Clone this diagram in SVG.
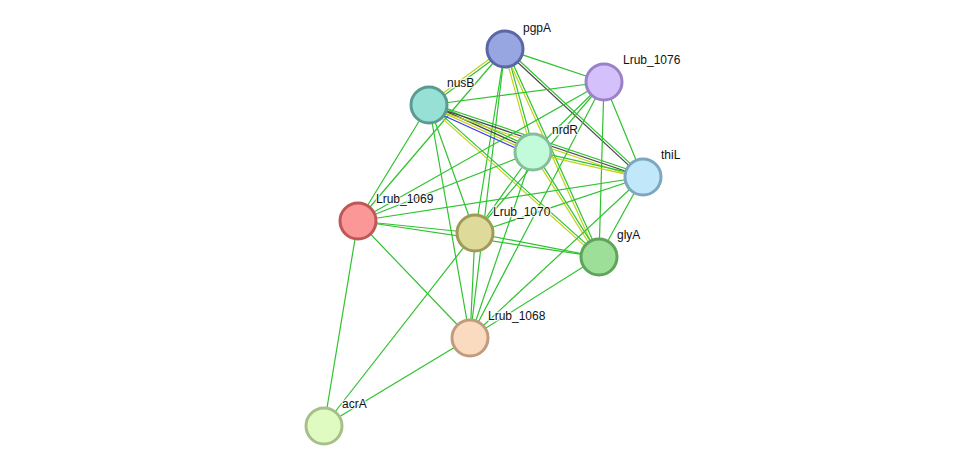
<svg xmlns="http://www.w3.org/2000/svg" width="976" height="471" viewBox="0 0 976 471">
<style>
.g{stroke:#2fc22f}
.y{stroke:#c3d21a}
.k{stroke:#474747}
.b{stroke:#3636f0}
#edges line{stroke-width:1.2;fill:none}
.n circle{stroke-width:3}
.lbl{font-family:"Liberation Sans",Arial,sans-serif;font-size:12px;fill:#111;stroke:#fff;stroke-width:2.5;stroke-opacity:0.8;paint-order:stroke;stroke-linejoin:round}
</style>
<rect width="976" height="471" fill="#fff"/>
<g id="edges">
<!-- pgpA -->
<line class="g" x1="505" y1="49" x2="604" y2="82"/>
<line class="g" x1="505.7" y1="50" x2="429.7" y2="106"/>
<line class="y" x1="504.3" y1="48" x2="428.3" y2="104"/>
<line class="g" x1="506.2" y1="48.7" x2="534.2" y2="151.7"/>
<line class="y" x1="503.8" y1="49.3" x2="531.8" y2="152.3"/>
<line class="g" x1="505.8" y1="48.1" x2="643.8" y2="176.1"/>
<line class="k" x1="504.2" y1="49.9" x2="642.2" y2="177.9"/>
<line class="g" x1="506.1" y1="48.5" x2="600.1" y2="256.5"/>
<line class="y" x1="503.9" y1="49.5" x2="597.9" y2="257.5"/>
<line class="g" x1="505" y1="49" x2="475" y2="233"/>
<line class="g" x1="505" y1="49" x2="470" y2="338"/>
<line class="g" x1="505" y1="49" x2="358" y2="221"/>
<!-- nusB -->
<line class="g" x1="429" y1="105" x2="604" y2="82"/>
<line class="g" x1="430.5" y1="101.7" x2="534.5" y2="148.7"/>
<line class="k" x1="429.5" y1="103.9" x2="533.5" y2="150.9"/>
<line class="y" x1="428.5" y1="106.1" x2="532.5" y2="153.1"/>
<line class="b" x1="427.5" y1="108.3" x2="531.5" y2="155.3"/>
<line class="g" x1="429.8" y1="102.7" x2="643.8" y2="174.7"/>
<line class="k" x1="429" y1="105" x2="643" y2="177"/>
<line class="y" x1="428.2" y1="107.3" x2="642.2" y2="179.3"/>
<line class="g" x1="429.8" y1="104.1" x2="599.8" y2="256.1"/>
<line class="y" x1="428.2" y1="105.9" x2="598.2" y2="257.9"/>
<line class="g" x1="429" y1="105" x2="358" y2="221"/>
<line class="g" x1="429" y1="105" x2="475" y2="233"/>
<line class="g" x1="429" y1="105" x2="470" y2="338"/>
<!-- Lrub_1076 -->
<line class="g" x1="604" y1="82" x2="533" y2="152"/>
<line class="g" x1="604" y1="82" x2="643" y2="177"/>
<line class="g" x1="604" y1="82" x2="599" y2="257"/>
<line class="g" x1="604" y1="82" x2="475" y2="233"/>
<line class="g" x1="604" y1="82" x2="470" y2="338"/>
<line class="g" x1="604" y1="82" x2="358" y2="221"/>
<!-- nrdR -->
<line class="g" x1="533.3" y1="150.8" x2="643.3" y2="175.8"/>
<line class="y" x1="532.7" y1="153.2" x2="642.7" y2="178.2"/>
<line class="g" x1="534" y1="151.4" x2="600" y2="256.4"/>
<line class="y" x1="532" y1="152.6" x2="598" y2="257.6"/>
<line class="g" x1="533" y1="152" x2="475" y2="233"/>
<line class="g" x1="533" y1="152" x2="470" y2="338"/>
<line class="g" x1="533" y1="152" x2="358" y2="221"/>
<!-- thiL -->
<line class="g" x1="643" y1="177" x2="599" y2="257"/>
<line class="g" x1="643" y1="177" x2="475" y2="233"/>
<line class="g" x1="643" y1="177" x2="470" y2="338"/>
<line class="g" x1="643" y1="177" x2="358" y2="221"/>
<!-- Lrub_1069 -->
<line class="g" x1="358" y1="221" x2="475" y2="233"/>
<line class="g" x1="358" y1="221" x2="599" y2="257"/>
<line class="g" x1="358" y1="221" x2="470" y2="338"/>
<line class="g" x1="358" y1="221" x2="324" y2="426"/>
<!-- Lrub_1070 -->
<line class="g" x1="475" y1="233" x2="599" y2="257"/>
<line class="g" x1="475" y1="233" x2="470" y2="338"/>
<line class="g" x1="475" y1="233" x2="324" y2="426"/>
<!-- glyA / Lrub_1068 -->
<line class="g" x1="599" y1="257" x2="470" y2="338"/>
<line class="g" x1="470" y1="338" x2="324" y2="426"/>
</g>
<g id="pgpA" class="n"><circle cx="505" cy="49" r="18" fill="#97a5e1" stroke="#5a66a6"/></g>
<g id="Lrub_1076" class="n"><circle cx="604" cy="82" r="18" fill="#d4c1fb" stroke="#9a82c8"/></g>
<g id="nusB" class="n"><circle cx="429" cy="105" r="18" fill="#97e0d6" stroke="#5a9a92"/></g>
<g id="nrdR" class="n"><circle cx="533" cy="152" r="18" fill="#c1fbd9" stroke="#86bd9c"/></g>
<g id="thiL" class="n"><circle cx="643" cy="177" r="18" fill="#c1e7fb" stroke="#7fa6bf"/></g>
<g id="Lrub_1069" class="n"><circle cx="358" cy="221" r="18" fill="#fb9797" stroke="#c05757"/></g>
<g id="Lrub_1070" class="n"><circle cx="475" cy="233" r="18" fill="#dedb9a" stroke="#a09a5a"/></g>
<g id="glyA" class="n"><circle cx="599" cy="257" r="18" fill="#9ddf99" stroke="#5ea45a"/></g>
<g id="Lrub_1068" class="n"><circle cx="470" cy="338" r="18" fill="#fbdbc0" stroke="#c09b7e"/></g>
<g id="acrA" class="n"><circle cx="324" cy="426" r="18" fill="#e0fbc1" stroke="#a6c08a"/></g>
<g id="labels">
<text class="lbl" x="523" y="32">pgpA</text>
<text class="lbl" x="623" y="64">Lrub_1076</text>
<text class="lbl" x="447" y="87">nusB</text>
<text class="lbl" x="552" y="134">nrdR</text>
<text class="lbl" x="661" y="159">thiL</text>
<text class="lbl" x="376" y="203">Lrub_1069</text>
<text class="lbl" x="493" y="216">Lrub_1070</text>
<text class="lbl" x="617" y="239">glyA</text>
<text class="lbl" x="488" y="320">Lrub_1068</text>
<text class="lbl" x="342" y="408">acrA</text>
</g>
</svg>
